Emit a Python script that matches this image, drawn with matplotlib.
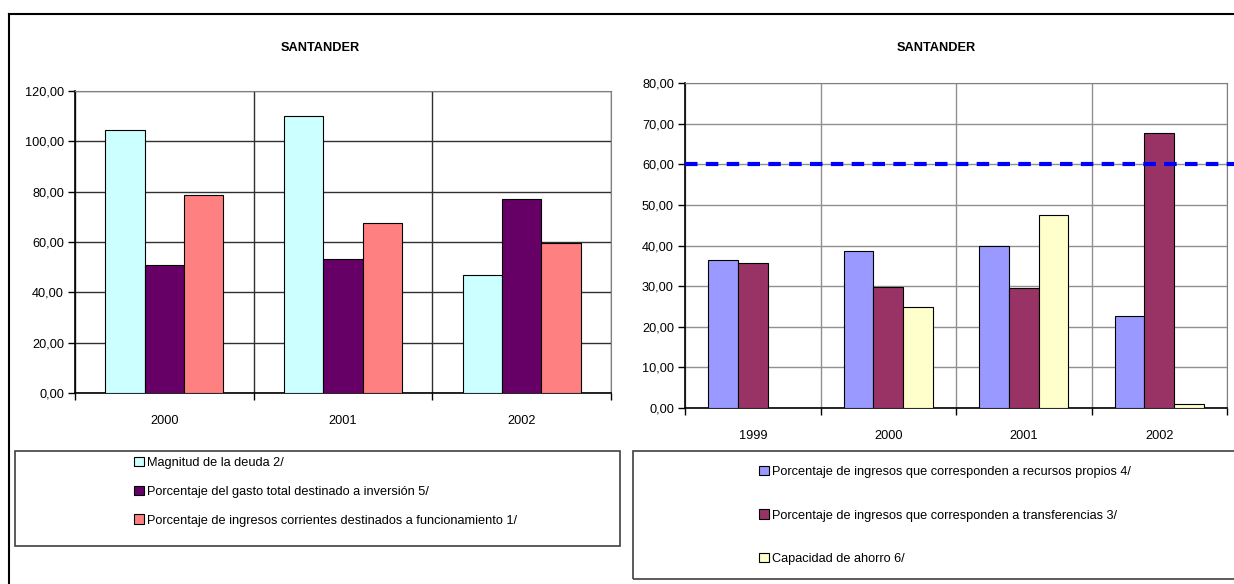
import matplotlib.pyplot as plt
from matplotlib.patches import Patch, Rectangle
from matplotlib.lines import Line2D
import numpy as np

# Data
left_years = ['2000', '2001', '2002']
deuda = [104.5, 110.0, 47.0]
inversion = [50.8, 53.1, 77.1]
funcionamiento = [78.8, 67.5, 59.8]
left_labels = ['Magnitud de la deuda 2/',
               'Porcentaje del gasto total destinado a inversión 5/',
               'Porcentaje de ingresos corrientes destinados a funcionamiento 1/']
left_colors = ['#CCFFFF', '#660066', '#FF8080']

right_years = ['1999', '2000', '2001', '2002']
propios = [36.5, 38.6, 40.0, 22.7]
transferencias = [35.8, 29.9, 29.6, 67.6]
ahorro = [np.nan, 24.8, 47.5, 1.0]
limite = 60.0
right_labels = ['Porcentaje de ingresos que corresponden a recursos propios 4/',
                'Porcentaje de ingresos que corresponden a transferencias 3/',
                'Capacidad de ahorro 6/']
right_colors = ['#9999FF', '#993366', '#FFFFCC']

plt.rcParams['font.family'] = ['Liberation Sans', 'DejaVu Sans']
plt.rcParams['font.size'] = 9.2

W, H = 1234, 584
fig = plt.figure(figsize=(W / 100, H / 100), dpi=100)


def fx(px):
    return px / W


def fy(py):
    return 1 - py / H


def bar_panel(ax, cats, series, colors, ymax, step, grid_col):
    n = len(series)
    x = np.arange(len(cats))
    bw = 0.22
    for i, (vals, col) in enumerate(zip(series, colors)):
        ax.bar(x + (i - (n - 1) / 2) * bw, vals, width=bw, color=col,
               edgecolor='black', linewidth=0.8, zorder=3)
    ax.set_xlim(-0.5, len(cats) - 0.5)
    ax.set_ylim(0, ymax)
    yt = np.arange(0, ymax + 0.1, step)
    ax.set_yticks(yt)
    ax.set_yticklabels([f'{v:.2f}'.replace('.', ',') for v in yt])
    ax.set_xticks(x)
    ax.set_xticklabels(cats)
    ax.set_xticks(np.arange(-0.5, len(cats)), minor=True)
    ax.tick_params(axis='x', which='major', length=0, pad=16)
    ax.tick_params(axis='x', which='minor', length=5, width=1, direction='out')
    ax.tick_params(axis='y', length=5, width=1, pad=3)
    ax.grid(axis='y', which='major', color=grid_col, linewidth=1, zorder=0)
    ax.grid(axis='x', which='minor', color=grid_col, linewidth=1, zorder=0)
    for s in ['top', 'right']:
        ax.spines[s].set_color('#808080')
    for s in ['left', 'bottom']:
        ax.spines[s].set_color('black')
        ax.spines[s].set_linewidth(1.2)


# Left chart
ax1 = fig.add_axes([fx(75), fy(393), fx(611 - 75), (393 - 91) / H])
bar_panel(ax1, left_years, [deuda, inversion, funcionamiento], left_colors, 120, 20, '#303030')

# Right chart
ax2 = fig.add_axes([fx(685), fy(408), fx(1227 - 685), (408 - 83) / H])
bar_panel(ax2, right_years, [propios, transferencias, ahorro], right_colors, 80, 10, '#909090')
ax2.plot([-0.5, 3.56], [limite, limite], color='#0000FF', linewidth=3.0,
         linestyle=(0, (3.0, 2.0)), clip_on=False, zorder=4)

# Titles
fig.text(fx(320), fy(48), 'SANTANDER', ha='center', va='center', fontweight='bold')
fig.text(fx(936), fy(48), 'SANTANDER', ha='center', va='center', fontweight='bold')

# Outer frame lines
fig.add_artist(Line2D([fx(9), fx(9)], [fy(14), 0], color='black', linewidth=1.5))
fig.add_artist(Line2D([fx(9), 1], [fy(14), fy(14)], color='black', linewidth=1.5))

# Legend boxes
fig.add_artist(Rectangle((fx(15), fy(546)), fx(620 - 15), (546 - 451) / H,
                         transform=fig.transFigure, fill=False, edgecolor='#404040', linewidth=1.2))
fig.add_artist(Rectangle((fx(633), fy(579)), fx(1240 - 633), (579 - 451) / H,
                         transform=fig.transFigure, fill=False, edgecolor='#404040', linewidth=1.2))

h1 = [Patch(facecolor=c, edgecolor='black', linewidth=0.8) for c in left_colors]
fig.legend(h1, left_labels, loc='upper left', bbox_to_anchor=(fx(134), fy(457)),
           frameon=False, handlelength=0.75, handleheight=0.75, handletextpad=0.3,
           borderpad=0, borderaxespad=0, labelspacing=1.3)

h2 = [Patch(facecolor=c, edgecolor='black', linewidth=0.8) for c in right_colors]
fig.legend(h2, right_labels, loc='upper left', bbox_to_anchor=(fx(759), fy(466)),
           frameon=False, handlelength=0.75, handleheight=0.75, handletextpad=0.3,
           borderpad=0, borderaxespad=0, labelspacing=2.45)

fig.savefig('out.png', dpi=100)
